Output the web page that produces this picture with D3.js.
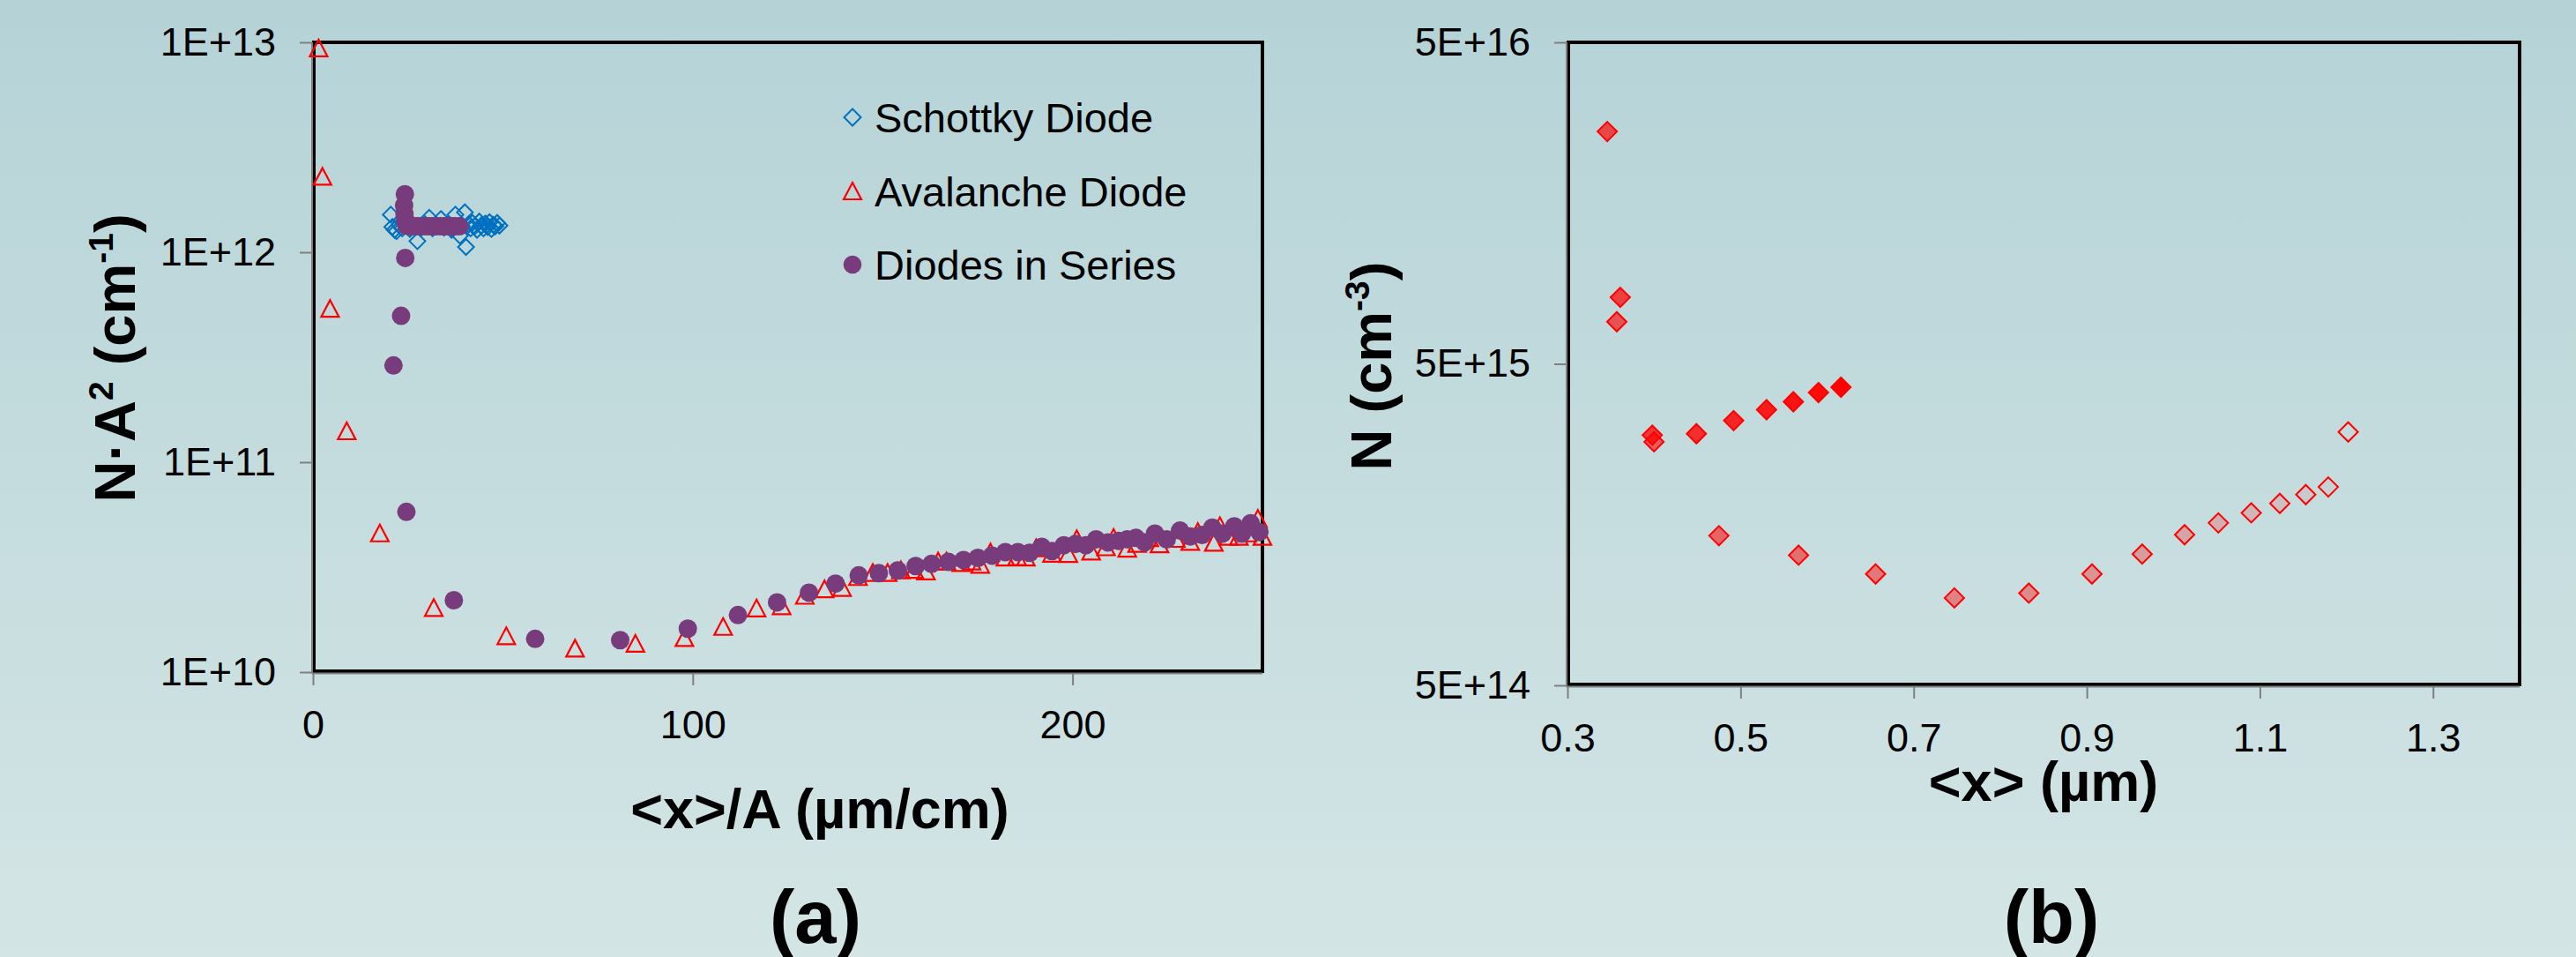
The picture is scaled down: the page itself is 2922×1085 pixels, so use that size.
<!DOCTYPE html>
<html>
<head>
<meta charset="utf-8">
<script src="https://cdn.jsdelivr.net/npm/d3@7"></script>
<style>
  html, body { margin: 0; padding: 0; overflow: hidden; }
</style>
</head>
<body>
<svg id="chart" width="2922" height="1085"></svg>
<script>
// Panel (a): N*A^2 vs <x>/A for three devices. Panel (b): doping profile N vs <x>.
const A_X_TICKS = [0, 100, 200];
const A_Y_TICKS = [1e10, 1e11, 1e12, 1e13];
const B_X_TICKS = [0.3, 0.5, 0.7, 0.9, 1.1, 1.3];
const B_Y_TICKS = [5e14, 5e15, 5e16];

const LEGEND = ['Schottky Diode', 'Avalanche Diode', 'Diodes in Series'];

// [<x>/A (um/cm), N*A^2 (cm^-1)]
const SCHOTTKY = [
  [20.5, 1.51e12], [20.9, 1.32e12], [21.5, 1.28e12], [22.0, 1.26e12], [22.8, 1.35e12],
  [23.5, 1.30e12], [24.5, 1.38e12], [25.5, 1.29e12], [26.5, 1.34e12], [27.5, 1.13e12],
  [28.5, 1.31e12], [29.5, 1.36e12], [30.6, 1.46e12], [31.5, 1.30e12], [32.5, 1.34e12],
  [33.7, 1.44e12], [34.5, 1.31e12], [35.5, 1.35e12], [36.5, 1.28e12], [37.5, 1.51e12],
  [38.7, 1.20e12], [39.2, 1.33e12], [40.0, 1.55e12], [40.3, 1.06e12], [41.0, 1.36e12],
  [41.5, 1.30e12], [42.0, 1.38e12], [42.6, 1.33e12], [43.2, 1.28e12], [43.8, 1.40e12],
  [44.3, 1.34e12], [44.9, 1.30e12], [45.4, 1.37e12], [46.0, 1.32e12], [46.5, 1.39e12],
  [47.0, 1.29e12], [47.5, 1.35e12], [48.0, 1.33e12], [48.5, 1.38e12], [49.1, 1.34e12],
];

const AVALANCHE = [
  [1.5, 9.4e12], [2.5, 2.3e12], [4.5, 5.4e11], [8.9, 1.41e11], [17.6, 4.6e10],
  [31.8, 2.03e10], [50.9, 1.49e10], [69.0, 1.30e10], [84.9, 1.37e10], [97.8, 1.46e10],
  [108.0, 1.65e10], [116.8, 2.02e10], [123.4, 2.07e10], [129.5, 2.32e10], [134.7, 2.49e10],
  [139.3, 2.53e10], [143.5, 2.85e10], [147.4, 2.98e10], [151.3, 2.98e10], [154.8, 3.07e10],
  [158.3, 3.08e10], [161.4, 3.03e10], [164.6, 3.38e10], [166.8, 3.38e10], [170.7, 3.32e10],
  [173.4, 3.38e10], [175.7, 3.26e10], [178.4, 3.73e10], [182.3, 3.53e10], [185.4, 3.55e10],
  [187.7, 3.53e10], [190.4, 3.91e10], [194.6, 3.68e10], [198.9, 3.67e10], [201.1, 4.32e10],
  [204.9, 3.77e10], [208.8, 3.95e10], [210.8, 4.38e10], [214.4, 3.89e10], [217.0, 4.10e10],
  [220.2, 4.37e10], [222.9, 4.08e10], [227.2, 4.33e10], [231.0, 4.19e10], [233.0, 4.67e10],
  [237.2, 4.15e10], [238.8, 4.98e10], [241.1, 4.43e10], [243.8, 4.43e10], [246.0, 4.60e10],
  [248.8, 5.40e10], [250.0, 4.43e10],
];

const SERIES = [
  [21.2, 2.89e11], [23.2, 4.98e11], [24.3, 9.4e11], [24.2, 1.89e12], [24.0, 1.67e12],
  [24.1, 1.52e12], [24.3, 1.42e12], [24.6, 1.34e12], [25.5, 1.33e12], [26.5, 1.33e12],
  [27.5, 1.33e12], [28.5, 1.33e12], [29.5, 1.33e12], [30.5, 1.33e12], [31.5, 1.33e12],
  [32.5, 1.33e12], [33.5, 1.33e12], [34.5, 1.33e12], [35.5, 1.33e12], [36.5, 1.33e12],
  [37.5, 1.33e12], [38.5, 1.33e12], [24.6, 5.8e10], [37.1, 2.2e10], [58.5, 1.44e10],
  [80.9, 1.42e10], [98.7, 1.61e10], [111.9, 1.87e10], [122.2, 2.15e10], [130.6, 2.39e10],
  [137.6, 2.64e10], [143.7, 2.89e10], [149.0, 2.96e10], [154.0, 3.05e10], [158.7, 3.20e10],
  [162.9, 3.28e10], [167.3, 3.35e10], [171.3, 3.42e10], [175.1, 3.50e10], [178.8, 3.59e10],
  [182.3, 3.73e10], [185.6, 3.73e10], [188.7, 3.70e10], [191.9, 3.95e10], [194.6, 3.77e10],
  [197.7, 4.02e10], [200.8, 4.08e10], [203.5, 4.02e10], [206.2, 4.29e10], [209.3, 4.15e10],
  [212.1, 4.22e10], [214.4, 4.29e10], [216.7, 4.36e10], [219.0, 4.15e10], [221.7, 4.57e10],
  [224.8, 4.29e10], [228.3, 4.72e10], [231.0, 4.43e10], [234.1, 4.50e10], [236.8, 4.88e10],
  [239.5, 4.57e10], [242.6, 4.95e10], [244.6, 4.57e10], [246.9, 5.12e10], [249.2, 4.65e10],
];

// Panel (b), in measurement order (fill fades along the sweep).
const PROFILE_X = [0.616, 0.590, 0.561, 0.530, 0.492, 0.449, 0.398, 0.361, 0.346, 0.357,
  0.400, 0.475, 0.567, 0.656, 0.747, 0.833, 0.906, 0.964, 1.013, 1.052, 1.090, 1.123, 1.153, 1.179, 1.202];
const PROFILE_N = [4.23e15, 4.07e15, 3.81e15, 3.60e15, 3.33e15, 3.03e15, 3.00e15, 8.05e15, 2.64e16, 6.76e15,
  2.86e15, 1.46e15, 1.27e15, 1.11e15, 9.35e14, 9.68e14, 1.11e15, 1.28e15, 1.47e15, 1.60e15, 1.72e15, 1.84e15, 1.96e15, 2.07e15, 3.07e15];

const FONT = '"Liberation Sans", Arial, sans-serif';
const BLUE = '#0070c0';
const RED = '#ff0000';
const PURPLE = '#783b7b';

const svg = d3.select('#chart');
const defs = svg.append('defs');
const bg = defs.append('linearGradient').attr('id', 'bg').attr('x1', 0).attr('y1', 0).attr('x2', 0).attr('y2', 1);
bg.append('stop').attr('offset', '0%').attr('stop-color', '#b5d3d7');
bg.append('stop').attr('offset', '100%').attr('stop-color', '#d4e5e5');
svg.append('rect').attr('width', 2922).attr('height', 1085).attr('fill', 'url(#bg)');

const diamond = (h) => `M0,${-h}L${h},0L0,${h}L${-h},0Z`;
const triangle = 'M0,-9.5L10,9.5L-10,9.5Z';
const sciFmt = (v) => `${Math.round(v / Math.pow(10, Math.floor(Math.log10(v) + 1e-9)))}E+${Math.floor(Math.log10(v) + 1e-9)}`;

function frame(box, x, y, xTicks, yTicks, xFmt) {
  const g = svg.append('g');
  g.append('g')
    .attr('transform', `translate(${box.l},0)`)
    .call(d3.axisLeft(y).tickValues(yTicks).tickSize(15).tickPadding(27).tickFormat(sciFmt))
    .call(styleAxis);
  g.append('g')
    .attr('transform', `translate(0,${box.b})`)
    .call(d3.axisBottom(x).tickValues(xTicks).tickSize(15).tickPadding(28).tickFormat(xFmt))
    .call(styleAxis);
  g.append('rect')
    .attr('x', box.l + 1).attr('y', box.t)
    .attr('width', box.r - box.l - 1).attr('height', box.b - box.t - 1)
    .attr('fill', 'none').attr('stroke', '#000').attr('stroke-width', 4);
  g.append('line').attr('x1', box.l - 1).attr('x2', box.l - 1).attr('y1', box.t).attr('y2', box.b + 2)
    .attr('stroke', '#808080').attr('stroke-width', 2);
  g.append('line').attr('x1', box.l - 1).attr('x2', box.r).attr('y1', box.b + 1.5).attr('y2', box.b + 1.5)
    .attr('stroke', '#808080').attr('stroke-width', 2);
  return g;
}

function styleAxis(ax) {
  ax.select('.domain').remove();
  ax.selectAll('.tick line').attr('stroke', '#808080').attr('stroke-width', 2);
  ax.selectAll('.tick text').attr('fill', '#000').style('font-family', FONT).style('font-size', '45px');
}

function title(x, y, parts, { rotate = false, size = 63 } = {}) {
  const t = svg.append('text')
    .attr('transform', rotate ? `translate(${x},${y}) rotate(-90)` : `translate(${x},${y})`)
    .attr('text-anchor', 'middle')
    .style('font-family', FONT).style('font-weight', 'bold').style('font-size', `${size}px`)
    .attr('fill', '#000');
  parts.forEach(([txt, sup], i) => {
    const prev = i > 0 && parts[i - 1][1];
    t.append('tspan')
      .attr('dy', sup ? -size * 0.38 : prev ? size * 0.38 : 0)
      .style('font-size', sup ? `${size * 0.6}px` : null)
      .text(txt);
  });
}

// ---- panel (a)
const boxA = { l: 355, t: 48, r: 1432, b: 762 };
const xA = d3.scaleLinear().domain([0, 250]).range([boxA.l, boxA.r]);
const yA = d3.scaleLog().domain([1e10, 1e13]).range([boxA.b, boxA.t]);
frame(boxA, xA, yA, A_X_TICKS, A_Y_TICKS, d3.format('d'));

const marksA = svg.append('g');
marksA.selectAll('path.schottky').data(SCHOTTKY).enter().append('path')
  .attr('class', 'schottky')
  .attr('d', diamond(9))
  .attr('transform', (d) => `translate(${xA(d[0])},${yA(d[1])})`)
  .attr('fill', 'none').attr('stroke', BLUE).attr('stroke-width', 2);
marksA.selectAll('path.avalanche').data(AVALANCHE).enter().append('path')
  .attr('class', 'avalanche')
  .attr('d', triangle)
  .attr('transform', (d) => `translate(${xA(d[0])},${yA(d[1])})`)
  .attr('fill', 'none').attr('stroke', RED).attr('stroke-width', 2.2);
marksA.selectAll('circle.series').data(SERIES).enter().append('circle')
  .attr('class', 'series')
  .attr('cx', (d) => xA(d[0])).attr('cy', (d) => yA(d[1])).attr('r', 10.5)
  .attr('fill', PURPLE);

const legend = svg.append('g').attr('transform', 'translate(967,133)');
LEGEND.forEach((name, i) => {
  const row = legend.append('g').attr('transform', `translate(0,${i * 83.5})`);
  if (i === 0) row.append('path').attr('d', diamond(9.5)).attr('fill', 'none').attr('stroke', BLUE).attr('stroke-width', 2);
  if (i === 1) row.append('path').attr('d', triangle).attr('fill', 'none').attr('stroke', RED).attr('stroke-width', 2.2);
  if (i === 2) row.append('circle').attr('r', 10.3).attr('fill', PURPLE);
  row.append('text').attr('x', 25).attr('y', 17)
    .style('font-family', FONT).style('font-size', '47px').attr('fill', '#000')
    .text(name);
});

title(930, 939, [['<x>/A (µm/cm)']]);
title(153, 406, [['N·A'], ['2', true], [' (cm'], ['-1', true], [')']], { rotate: true, size: 65 });
title(925, 1069, [['(a)']], { size: 85 });

// ---- panel (b)
const boxB = { l: 1778, t: 48, r: 2858, b: 777 };
const xB = d3.scaleLinear().domain([0.3, 1.4]).range([boxB.l, boxB.r]);
const yB = d3.scaleLog().domain([5e14, 5e16]).range([boxB.b, boxB.t]);
frame(boxB, xB, yB, B_X_TICKS, B_Y_TICKS, d3.format('.1f'));

const fade = d3.scaleLinear().domain([0, PROFILE_X.length - 1]).range([1, 0]);
svg.append('g').selectAll('path').data(PROFILE_X).enter().append('path')
  .attr('d', diamond(11))
  .attr('transform', (d, i) => `translate(${xB(d)},${yB(PROFILE_N[i])})`)
  .attr('fill', RED).attr('fill-opacity', (d, i) => fade(i))
  .attr('stroke', RED).attr('stroke-width', 2);

title(2318, 908, [['<x> (µm)']]);
title(1578, 415, [['N (cm'], ['-3', true], [')']], { rotate: true, size: 65 });
title(2327, 1069, [['(b)']], { size: 85 });
</script>
</body>
</html>
